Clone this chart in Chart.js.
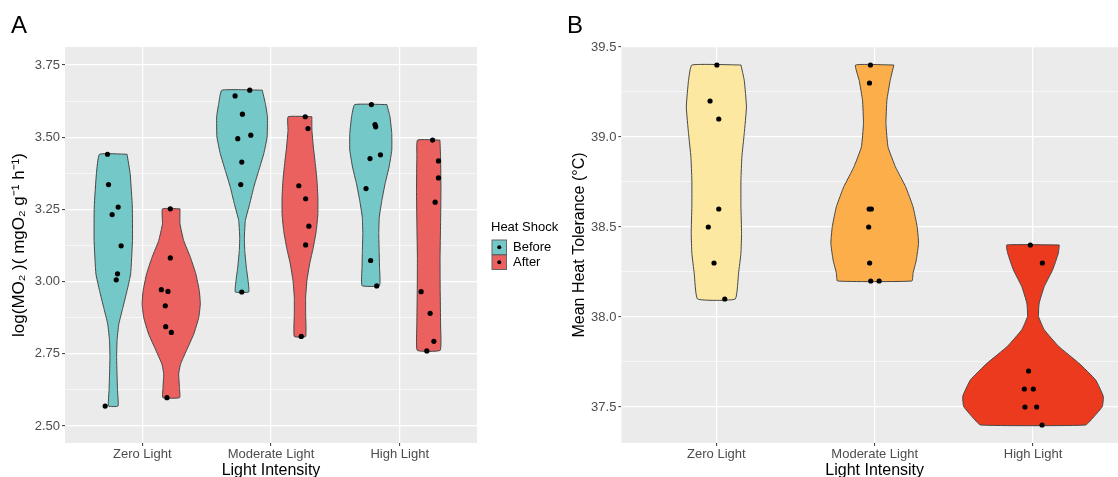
<!DOCTYPE html>
<html>
<head>
<meta charset="utf-8">
<script src="https://cdn.jsdelivr.net/npm/chart.js@4.4.1/dist/chart.umd.min.js"></script>
<style>
    html, body { margin: 0; padding: 0; background: #fff; overflow: hidden; width: 1118px; height: 477px; }
    canvas { position: absolute; top: 0; }
    #chartA { left: 0; }
    #chartB { left: 556px; }
</style>
</head>
<body>
<canvas id="chartA" width="570" height="477"></canvas>
<canvas id="chartB" width="584" height="477"></canvas>
<script>
// Categories / groups
const categories = ['Zero Light', 'Moderate Light', 'High Light'];
const groupsA = ['Before', 'After'];

// Tick values + labels
const yMajorA = [2.5, 2.75, 3.0, 3.25, 3.5, 3.75];
const yLabelsA = ['2.50', '2.75', '3.00', '3.25', '3.50', '3.75'];
const yMajorB = [37.5, 38.0, 38.5, 39.0, 39.5];
const yLabelsB = ['37.5', '38.0', '38.5', '39.0', '39.5'];

// Panel A violin outlines (y level, half width in category units)
const zeroBeforeY = [3.441, 3.374, 3.258, 3.142, 3.027, 2.969, 2.911, 2.853, 2.795, 2.737, 2.680, 2.622, 2.569];
const zeroBeforeW = [0.107, 0.131, 0.148, 0.149, 0.135, 0.107, 0.075, 0.043, 0.029, 0.026, 0.029, 0.033, 0.037];
const zeroAfterY = [3.252, 3.200, 3.142, 3.084, 3.027, 2.969, 2.923, 2.876, 2.818, 2.760, 2.714, 2.680, 2.633, 2.598];
const zeroAfterW = [0.068, 0.068, 0.097, 0.149, 0.191, 0.218, 0.226, 0.214, 0.175, 0.117, 0.072, 0.058, 0.064, 0.065];
const modBeforeY = [3.663, 3.617, 3.571, 3.501, 3.443, 3.385, 3.327, 3.270, 3.212, 3.154, 3.108, 3.050, 3.003, 2.964];
const modBeforeW = [0.157, 0.181, 0.197, 0.195, 0.169, 0.130, 0.091, 0.060, 0.026, 0.018, 0.021, 0.033, 0.047, 0.052];
const modAfterY = [3.571, 3.524, 3.466, 3.409, 3.351, 3.293, 3.235, 3.177, 3.119, 3.061, 3.003, 2.946, 2.888, 2.810];
const modAfterW = [0.092, 0.093, 0.104, 0.119, 0.132, 0.139, 0.139, 0.127, 0.104, 0.075, 0.054, 0.044, 0.044, 0.044];
const highBeforeY = [3.613, 3.571, 3.513, 3.455, 3.397, 3.339, 3.281, 3.223, 3.166, 3.108, 3.050, 2.986];
const highBeforeW = [0.125, 0.149, 0.163, 0.163, 0.142, 0.111, 0.086, 0.066, 0.062, 0.065, 0.068, 0.068];
const highAfterY = [3.490, 3.432, 3.316, 3.200, 3.084, 2.969, 2.853, 2.762];
const highAfterW = [0.087, 0.092, 0.095, 0.092, 0.088, 0.089, 0.092, 0.089];

// Panel A raw points (value, horizontal jitter)
const zeroBeforePts = [3.441, 3.336, 3.258, 3.232, 3.124, 3.027, 3.006, 2.569];
const zeroBeforeJit = [-0.045, -0.037, 0.038, -0.009, 0.061, 0.033, 0.023, -0.063];
const zeroAfterPts = [3.252, 3.082, 2.972, 2.966, 2.916, 2.844, 2.824, 2.598];
const zeroAfterJit = [-0.007, -0.007, -0.077, -0.025, -0.046, -0.043, 0.001, -0.033];
const modBeforePts = [3.663, 3.643, 3.580, 3.507, 3.495, 3.414, 3.336, 2.964];
const modBeforeJit = [0.060, -0.054, 0.003, 0.068, -0.033, -0.002, -0.010, -0.002];
const modAfterPts = [3.571, 3.530, 3.332, 3.287, 3.192, 3.127, 2.810];
const modAfterJit = [0.041, 0.062, -0.009, 0.044, 0.069, 0.044, 0.010];
const highBeforePts = [3.613, 3.544, 3.536, 3.439, 3.426, 3.322, 3.073, 2.985];
const highBeforeJit = [0.005, 0.033, 0.038, 0.075, -0.006, -0.037, -0.001, 0.046];
const highAfterPts = [3.490, 3.418, 3.359, 3.275, 2.965, 2.890, 2.793, 2.760];
const highAfterJit = [0.030, 0.076, 0.076, 0.050, -0.059, 0.011, 0.040, -0.015];

// Panel B violin outlines
const zeroTolY = [39.4, 39.315, 39.167, 39.020, 38.890, 38.761, 38.613, 38.465, 38.354, 38.243, 38.1];
const zeroTolW = [0.155, 0.176, 0.190, 0.176, 0.161, 0.155, 0.155, 0.159, 0.155, 0.140, 0.119];
const modTolY = [39.4, 39.315, 39.204, 39.075, 38.945, 38.834, 38.724, 38.613, 38.502, 38.410, 38.317, 38.243, 38.2];
const modTolW = [0.121, 0.098, 0.077, 0.071, 0.084, 0.131, 0.195, 0.242, 0.268, 0.277, 0.263, 0.242, 0.235];
const highTolY = [38.4, 38.354, 38.262, 38.169, 38.077, 38.003, 37.929, 37.836, 37.744, 37.651, 37.559, 37.503, 37.448, 37.4];
const highTolW = [0.166, 0.160, 0.124, 0.071, 0.039, 0.035, 0.071, 0.163, 0.289, 0.395, 0.444, 0.438, 0.387, 0.332];

// Panel B raw points
const zeroTolPts = [39.4, 39.2, 39.1, 38.6, 38.5, 38.3, 38.1];
const zeroTolJit = [0.003, -0.040, 0.015, 0.015, -0.051, -0.015, 0.053];
const modTolPts = [39.4, 39.3, 38.6, 38.6, 38.5, 38.3, 38.2, 38.2];
const modTolJit = [-0.027, -0.033, -0.035, -0.021, -0.038, -0.032, -0.025, 0.028];
const highTolPts = [38.4, 38.3, 37.7, 37.6, 37.6, 37.5, 37.5, 37.4];
const highTolJit = [-0.017, 0.059, -0.028, -0.055, 0.002, -0.051, 0.023, 0.057];

// Colors
const TEAL = '#74C8C7';
const RED = '#EA615F';
const tolColors = ['#FCE8A0', '#FBAE4A', '#EC3A1E'];
const FONT = "'Liberation Sans', Arial, sans-serif";
const DODGE = 0.225;

Chart.defaults.font.family = FONT;

function violin(center, ys, ws, fill) {
    const pts = [];
    for (let i = 0; i < ys.length; i++) pts.push({ x: center + ws[i], y: ys[i] });
    for (let i = ys.length - 1; i >= 0; i--) pts.push({ x: center - ws[i], y: ys[i] });
    pts.push(pts[0]);
    return {
        type: 'line',
        data: pts,
        backgroundColor: fill,
        borderColor: '#474747',
        borderWidth: 1,
        pointRadius: 0,
        tension: 0.12, // also keeps the line off the fast path (no vertical pixel merging)
        fill: 'shape',
        order: 2
    };
}

function dots(center, vals, jit) {
    return {
        type: 'scatter',
        data: vals.map((v, i) => ({ x: center + jit[i], y: v })),
        backgroundColor: '#000',
        borderWidth: 0,
        pointRadius: 2.6,
        order: 1
    };
}

// Background + panel letter
const panelBg = {
    id: 'panelBg',
    beforeDraw(chart) {
        const { ctx, chartArea: a } = chart;
        ctx.save();
        ctx.fillStyle = '#EBEBEB';
        ctx.fillRect(a.left, a.top, a.right - a.left, a.bottom - a.top);
        ctx.restore();
    },
    afterDraw(chart, args, opts) {
        const ctx = chart.ctx;
        ctx.save();
        ctx.fillStyle = '#000';
        ctx.font = '24px ' + FONT;
        ctx.textBaseline = 'alphabetic';
        ctx.fillText(opts.letter, opts.x, opts.y);
        ctx.restore();
    }
};

// Heat Shock legend (drawn to the right of panel A)
const heatLegend = {
    id: 'heatLegend',
    afterDraw(chart) {
        const ctx = chart.ctx;
        ctx.save();
        ctx.fillStyle = '#000';
        ctx.font = '13px ' + FONT;
        ctx.textBaseline = 'middle';
        ctx.fillText('Heat Shock', 491, 227);
        [TEAL, RED].forEach((c, i) => {
            const top = 240 + i * 15;
            ctx.fillStyle = c;
            ctx.fillRect(492, top, 14.5, 14.5);
            ctx.strokeStyle = '#666';
            ctx.lineWidth = 1;
            ctx.strokeRect(492, top, 14.5, 14.5);
            ctx.fillStyle = '#000';
            ctx.beginPath();
            ctx.arc(499.25, top + 7.25, 2, 0, Math.PI * 2);
            ctx.fill();
            ctx.fillText(groupsA[i], 513, top + 7.5);
        });
        ctx.restore();
    }
};

function yAxis(min, max, majors, labels, title, width, titlePad, fontSize) {
    const isMajor = v => majors.some(m => Math.abs(m - v) < 1e-9);
    return {
        type: 'linear',
        min: min,
        max: max,
        afterBuildTicks: scale => {
            const t = [];
            majors.forEach((m, i) => {
                t.push({ value: m });
                if (i < majors.length - 1) t.push({ value: (m + majors[i + 1]) / 2 });
            });
            scale.ticks = t.filter(o => o.value >= min && o.value <= max);
        },
        afterFit: scale => { scale.width = width; },
        ticks: {
            autoSkip: false,
            padding: 2,
            color: '#4D4D4D',
            font: { size: 13 },
            callback: v => {
                const i = majors.findIndex(m => Math.abs(m - v) < 1e-9);
                return i >= 0 ? labels[i] : '';
            }
        },
        grid: {
            color: '#FFFFFF',
            lineWidth: c => (c.tick && isMajor(c.tick.value)) ? 1.2 : 0.6,
            tickColor: c => (c.tick && isMajor(c.tick.value)) ? '#333333' : 'rgba(0,0,0,0)',
            tickLength: 3,
            tickWidth: 1
        },
        border: { display: false },
        title: {
            display: true,
            text: title,
            color: '#000',
            font: { size: fontSize, lineHeight: 1 },
            padding: { top: titlePad, bottom: 0 }
        }
    };
}

function xAxis() {
    return {
        type: 'linear',
        min: 0.4,
        max: 3.6,
        afterBuildTicks: scale => {
            scale.ticks = categories.map((c, i) => ({ value: i + 1 }));
        },
        afterFit: scale => { scale.height = 34; },
        ticks: {
            autoSkip: false,
            maxRotation: 0,
            padding: 1,
            color: '#4D4D4D',
            font: { size: 13 },
            callback: v => categories[Math.round(v) - 1]
        },
        grid: {
            color: '#FFFFFF',
            lineWidth: 1.2,
            tickColor: '#333333',
            tickLength: 3,
            tickWidth: 1
        },
        border: { display: false },
        title: {
            display: true,
            text: 'Light Intensity',
            color: '#000',
            font: { size: 16, lineHeight: 0.8 },
            padding: { top: 0, bottom: 0 }
        }
    };
}

function baseOptions(yScale, padRight, letter) {
    return {
        responsive: false,
        animation: false,
        events: [],
        layout: { padding: { top: 47, right: padRight, left: 0, bottom: 0 } },
        scales: { x: xAxis(), y: yScale },
        plugins: {
            legend: { display: false },
            tooltip: { enabled: false },
            panelBg: letter
        }
    };
}

// Panel A
const datasetsA = [
    violin(1 - DODGE, zeroBeforeY, zeroBeforeW, TEAL),
    violin(1 + DODGE, zeroAfterY, zeroAfterW, RED),
    violin(2 - DODGE, modBeforeY, modBeforeW, TEAL),
    violin(2 + DODGE, modAfterY, modAfterW, RED),
    violin(3 - DODGE, highBeforeY, highBeforeW, TEAL),
    violin(3 + DODGE, highAfterY, highAfterW, RED),
    dots(1 - DODGE, zeroBeforePts, zeroBeforeJit),
    dots(1 + DODGE, zeroAfterPts, zeroAfterJit),
    dots(2 - DODGE, modBeforePts, modBeforeJit),
    dots(2 + DODGE, modAfterPts, modAfterJit),
    dots(3 - DODGE, highBeforePts, highBeforeJit),
    dots(3 + DODGE, highAfterPts, highAfterJit)
];

new Chart(document.getElementById('chartA').getContext('2d'), {
    type: 'scatter',
    data: { datasets: datasetsA },
    options: baseOptions(
        yAxis(2.441, 3.8125, yMajorA, yLabelsA, 'log(MO\u2082 )( mgO\u2082 g\u207B\u00B9 h\u207B\u00B9)', 65, 11, 17),
        93,
        { letter: 'A', x: 11, y: 33 }
    ),
    plugins: [panelBg, heatLegend]
});

// Panel B
const datasetsB = [
    violin(1, zeroTolY, zeroTolW, tolColors[0]),
    violin(2, modTolY, modTolW, tolColors[1]),
    violin(3, highTolY, highTolW, tolColors[2]),
    dots(1, zeroTolPts, zeroTolJit),
    dots(2, modTolPts, modTolJit),
    dots(3, highTolPts, highTolJit)
];

new Chart(document.getElementById('chartB').getContext('2d'), {
    type: 'scatter',
    data: { datasets: datasetsB },
    options: baseOptions(
        yAxis(37.3, 39.5, yMajorB, yLabelsB, 'Mean Heat Tolerance (\u00B0C)', 65.4, 16, 16),
        12,
        { letter: 'B', x: 11, y: 33 }
    ),
    plugins: [panelBg]
});
</script>
</body>
</html>
